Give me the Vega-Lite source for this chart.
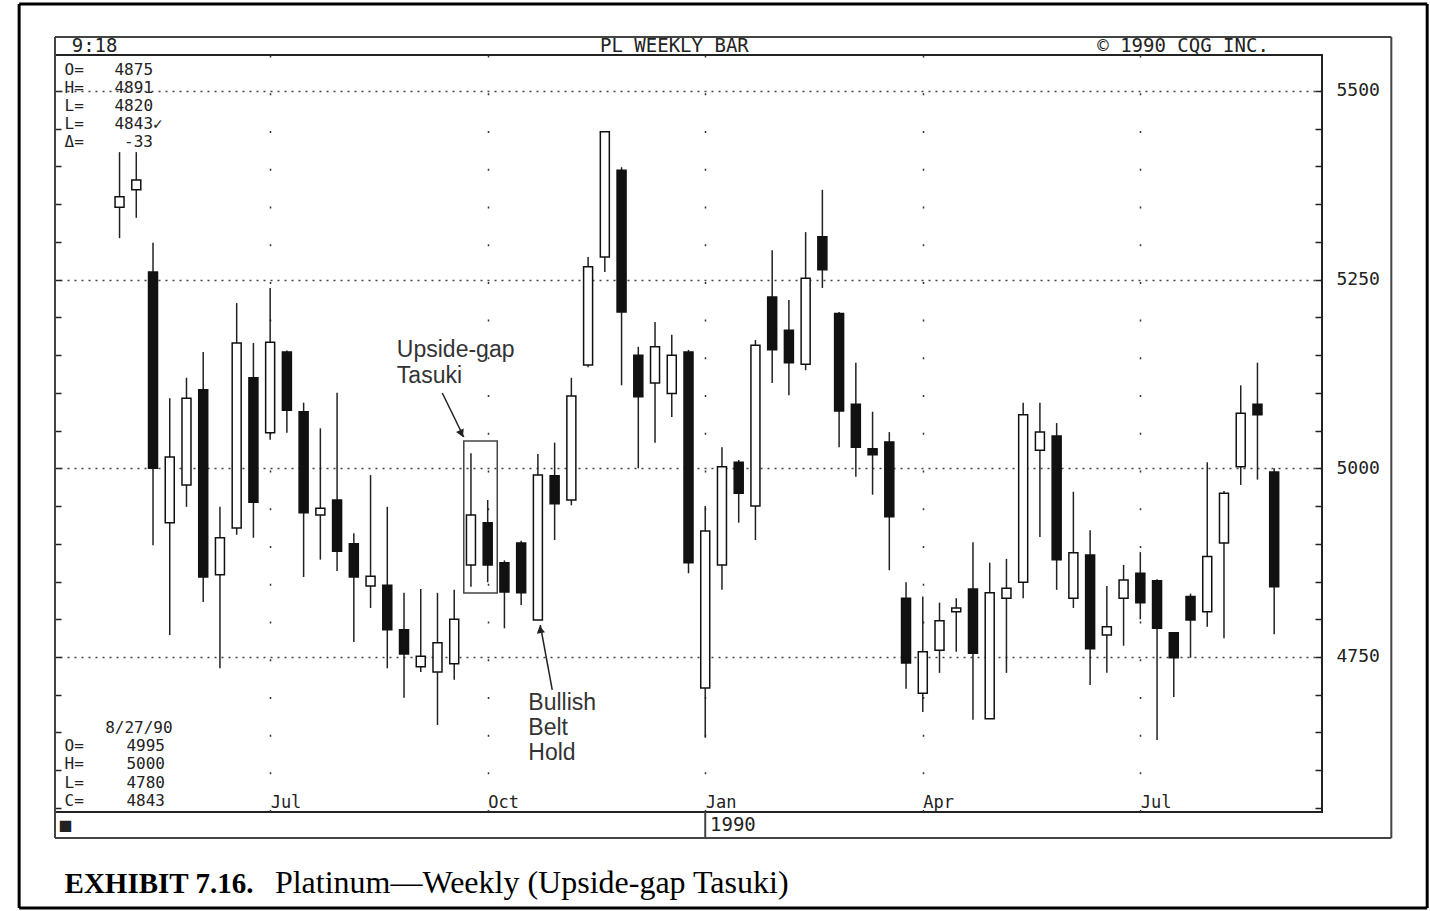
{
  "$schema": "https://vega.github.io/schema/vega-lite/v6.json",
  "width": 1267,
  "height": 757,
  "autosize": {"type": "none"},
  "padding": {"left": 55, "top": 55, "right": 108, "bottom": 99},
  "background": "white",
  "config": {"view": {"stroke": "#222", "strokeWidth": 2}},
  "datasets": {
    "candles": [
      {"d": "1989-05-01", "o": 5346, "h": 5419, "l": 5305, "c": 5360},
      {"d": "1989-05-08", "o": 5369, "h": 5419, "l": 5332, "c": 5382},
      {"d": "1989-05-15", "o": 5260, "h": 5299, "l": 4898, "c": 5000},
      {"d": "1989-05-22", "o": 4928, "h": 5093, "l": 4779, "c": 5015},
      {"d": "1989-05-29", "o": 4978, "h": 5120, "l": 4949, "c": 5093},
      {"d": "1989-06-05", "o": 5104, "h": 5154, "l": 4823, "c": 4856},
      {"d": "1989-06-12", "o": 4859, "h": 4949, "l": 4735, "c": 4908},
      {"d": "1989-06-19", "o": 4921, "h": 5219, "l": 4912, "c": 5166},
      {"d": "1989-06-26", "o": 5120, "h": 5166, "l": 4908, "c": 4955},
      {"d": "1989-07-03", "o": 5047, "h": 5239, "l": 5038, "c": 5167},
      {"d": "1989-07-10", "o": 5154, "h": 5156, "l": 5047, "c": 5077},
      {"d": "1989-07-17", "o": 5075, "h": 5087, "l": 4856, "c": 4941},
      {"d": "1989-07-24", "o": 4938, "h": 5053, "l": 4879, "c": 4947},
      {"d": "1989-07-31", "o": 4958, "h": 5100, "l": 4864, "c": 4890},
      {"d": "1989-08-07", "o": 4900, "h": 4914, "l": 4770, "c": 4856},
      {"d": "1989-08-14", "o": 4844, "h": 4991, "l": 4815, "c": 4857},
      {"d": "1989-08-21", "o": 4845, "h": 4949, "l": 4735, "c": 4786},
      {"d": "1989-08-28", "o": 4786, "h": 4835, "l": 4696, "c": 4754},
      {"d": "1989-09-04", "o": 4737, "h": 4840, "l": 4730, "c": 4751},
      {"d": "1989-09-11", "o": 4730, "h": 4835, "l": 4660, "c": 4769},
      {"d": "1989-09-18", "o": 4741, "h": 4839, "l": 4720, "c": 4800},
      {"d": "1989-09-25", "o": 4872, "h": 5020, "l": 4843, "c": 4938},
      {"d": "1989-10-02", "o": 4928, "h": 4958, "l": 4849, "c": 4872},
      {"d": "1989-10-09", "o": 4875, "h": 4878, "l": 4788, "c": 4836},
      {"d": "1989-10-16", "o": 4901, "h": 4904, "l": 4819, "c": 4835},
      {"d": "1989-10-23", "o": 4799, "h": 5019, "l": 4799, "c": 4991},
      {"d": "1989-10-30", "o": 4990, "h": 5034, "l": 4905, "c": 4953},
      {"d": "1989-11-06", "o": 4958, "h": 5120, "l": 4951, "c": 5096},
      {"d": "1989-11-13", "o": 5137, "h": 5280, "l": 5134, "c": 5267},
      {"d": "1989-11-20", "o": 5280, "h": 5447, "l": 5260, "c": 5446},
      {"d": "1989-11-27", "o": 5395, "h": 5399, "l": 5110, "c": 5207},
      {"d": "1989-12-04", "o": 5150, "h": 5161, "l": 5000, "c": 5095},
      {"d": "1989-12-11", "o": 5113, "h": 5194, "l": 5034, "c": 5161},
      {"d": "1989-12-18", "o": 5099, "h": 5177, "l": 5068, "c": 5150},
      {"d": "1989-12-25", "o": 5154, "h": 5157, "l": 4861, "c": 4875},
      {"d": "1990-01-01", "o": 4709, "h": 4950, "l": 4643, "c": 4917},
      {"d": "1990-01-08", "o": 4872, "h": 5028, "l": 4839, "c": 5002},
      {"d": "1990-01-15", "o": 5008, "h": 5011, "l": 4928, "c": 4967},
      {"d": "1990-01-22", "o": 4950, "h": 5170, "l": 4905, "c": 5163},
      {"d": "1990-01-29", "o": 5227, "h": 5289, "l": 5113, "c": 5157},
      {"d": "1990-02-05", "o": 5183, "h": 5223, "l": 5097, "c": 5140},
      {"d": "1990-02-12", "o": 5138, "h": 5313, "l": 5130, "c": 5252},
      {"d": "1990-02-19", "o": 5307, "h": 5369, "l": 5239, "c": 5263},
      {"d": "1990-02-26", "o": 5205, "h": 5207, "l": 5028, "c": 5076},
      {"d": "1990-03-05", "o": 5085, "h": 5140, "l": 4989, "c": 5028},
      {"d": "1990-03-12", "o": 5026, "h": 5075, "l": 4965, "c": 5018},
      {"d": "1990-03-19", "o": 5035, "h": 5048, "l": 4865, "c": 4936},
      {"d": "1990-03-26", "o": 4828, "h": 4849, "l": 4708, "c": 4742},
      {"d": "1990-04-02", "o": 4702, "h": 4830, "l": 4677, "c": 4757},
      {"d": "1990-04-09", "o": 4759, "h": 4822, "l": 4729, "c": 4798},
      {"d": "1990-04-16", "o": 4810, "h": 4828, "l": 4757, "c": 4815},
      {"d": "1990-04-23", "o": 4840, "h": 4902, "l": 4667, "c": 4755},
      {"d": "1990-04-30", "o": 4668, "h": 4875, "l": 4668, "c": 4835},
      {"d": "1990-05-07", "o": 4828, "h": 4880, "l": 4729, "c": 4841},
      {"d": "1990-05-14", "o": 4849, "h": 5087, "l": 4828, "c": 5071},
      {"d": "1990-05-21", "o": 5024, "h": 5087, "l": 4909, "c": 5048},
      {"d": "1990-05-28", "o": 5043, "h": 5060, "l": 4839, "c": 4879},
      {"d": "1990-06-04", "o": 4828, "h": 4969, "l": 4815, "c": 4888},
      {"d": "1990-06-11", "o": 4885, "h": 4918, "l": 4713, "c": 4761},
      {"d": "1990-06-18", "o": 4779, "h": 4844, "l": 4729, "c": 4790},
      {"d": "1990-06-25", "o": 4828, "h": 4872, "l": 4765, "c": 4852},
      {"d": "1990-07-02", "o": 4861, "h": 4889, "l": 4800, "c": 4822},
      {"d": "1990-07-09", "o": 4851, "h": 4853, "l": 4640, "c": 4788},
      {"d": "1990-07-16", "o": 4782, "h": 4783, "l": 4697, "c": 4749},
      {"d": "1990-07-23", "o": 4830, "h": 4834, "l": 4749, "c": 4799},
      {"d": "1990-07-30", "o": 4810, "h": 5008, "l": 4790, "c": 4883},
      {"d": "1990-08-06", "o": 4901, "h": 4970, "l": 4775, "c": 4967},
      {"d": "1990-08-13", "o": 5002, "h": 5110, "l": 4978, "c": 5073},
      {"d": "1990-08-20", "o": 5085, "h": 5140, "l": 4985, "c": 5071},
      {"d": "1990-08-27", "o": 4995, "h": 5000, "l": 4780, "c": 4843}
    ],
    "notes": [
      {"g": "head", "t": "9:18", "d": "1989-04-11", "p": 5559.6},
      {"g": "head", "t": "PL WEEKLY BAR", "d": "1989-11-18", "p": 5559.6},
      {"g": "head", "t": "© 1990 CQG INC.", "d": "1990-06-14", "p": 5559.6},
      {"g": "head", "t": "■", "d": "1989-04-06", "p": 4527.4},
      {"g": "head", "t": "1990", "d": "1990-01-03", "p": 4527.4},
      {"g": "monoL", "t": "O=", "d": "1989-04-08", "p": 5527.8},
      {"g": "monoL", "t": "H=", "d": "1989-04-08", "p": 5503.9},
      {"g": "monoL", "t": "L=", "d": "1989-04-08", "p": 5480.1},
      {"g": "monoL", "t": "L=", "d": "1989-04-08", "p": 5456.3},
      {"g": "monoL", "t": "Δ=", "d": "1989-04-08", "p": 5432.4},
      {"g": "monoL", "t": "✓", "d": "1989-05-15", "p": 5456.3},
      {"g": "monoL", "t": "8/27/90", "d": "1989-04-25", "p": 4655.9},
      {"g": "monoL", "t": "O=", "d": "1989-04-08", "p": 4632.1},
      {"g": "monoL", "t": "H=", "d": "1989-04-08", "p": 4608.2},
      {"g": "monoL", "t": "L=", "d": "1989-04-08", "p": 4583.0},
      {"g": "monoL", "t": "C=", "d": "1989-04-08", "p": 4559.2},
      {"g": "monoR", "t": "4875", "d": "1989-05-15", "p": 5527.8},
      {"g": "monoR", "t": "4891", "d": "1989-05-15", "p": 5503.9},
      {"g": "monoR", "t": "4820", "d": "1989-05-15", "p": 5480.1},
      {"g": "monoR", "t": "4843", "d": "1989-05-15", "p": 5456.3},
      {"g": "monoR", "t": "-33", "d": "1989-05-15", "p": 5432.4},
      {"g": "monoR", "t": "4995", "d": "1989-05-20", "p": 4632.1},
      {"g": "monoR", "t": "5000", "d": "1989-05-20", "p": 4608.2},
      {"g": "monoR", "t": "4780", "d": "1989-05-20", "p": 4583.0},
      {"g": "monoR", "t": "4843", "d": "1989-05-20", "p": 4559.2},
      {"g": "anno", "t": "Upside-gap", "d": "1989-08-25", "p": 5156.8},
      {"g": "anno", "t": "Tasuki", "d": "1989-08-25", "p": 5122.4},
      {"g": "anno", "t": "Bullish", "d": "1989-10-19", "p": 4689.1},
      {"g": "anno", "t": "Belt", "d": "1989-10-19", "p": 4655.9},
      {"g": "anno", "t": "Hold", "d": "1989-10-19", "p": 4622.8},
      {"g": "capb", "t": "EXHIBIT 7.16.", "d": "1989-04-08", "p": 4437.3},
      {"g": "cap", "t": "Platinum—Weekly (Upside-gap Tasuki)", "d": "1989-07-05", "p": 4437.3}
    ],
    "frames": [
      {"kind": "page", "d1": "1989-03-20", "d2": "1990-10-30", "p1": 5615.3, "p2": 5615.3},
      {"kind": "page", "d1": "1989-03-20", "d2": "1990-10-30", "p1": 4417.4, "p2": 4417.4},
      {"kind": "page", "d1": "1989-03-20", "d2": "1989-03-20", "p1": 4417.4, "p2": 5615.3},
      {"kind": "page", "d1": "1990-10-30", "d2": "1990-10-30", "p1": 4417.4, "p2": 5615.3},
      {"kind": "box", "d1": "1989-04-04", "d2": "1990-10-15", "p1": 5571.6, "p2": 5571.6},
      {"kind": "box", "d1": "1989-04-04", "d2": "1990-10-15", "p1": 4510.2, "p2": 4510.2},
      {"kind": "box", "d1": "1989-04-04", "d2": "1989-04-04", "p1": 4510.2, "p2": 5571.6},
      {"kind": "box", "d1": "1990-10-15", "d2": "1990-10-15", "p1": 4510.2, "p2": 5571.6},
      {"kind": "box", "d1": "1990-01-01", "d2": "1990-01-01", "p1": 4510.2, "p2": 4544.6}
    ],
    "tasuki": [
      {"d1": "1989-09-22", "d2": "1989-10-06", "p1": 5036.2, "p2": 4834.8}
    ],
    "arrows": [
      {"id": "a1", "d1": "1989-09-13", "p1": 5099.8, "d2": "1989-09-22", "p2": 5041.5, "hd": "1989-09-21", "hp": 5046.0},
      {"id": "a2", "d1": "1989-10-29", "p1": 4706.3, "d2": "1989-10-24", "p2": 4792.4, "hd": "1989-10-24", "hp": 4786.5}
    ]
  },
  "resolve": {"axis": {"y": "independent", "x": "shared"}},
  "layer": [
    {
      "data": {"name": "candles"},
      "mark": {"type": "rule", "color": "#222", "strokeWidth": 1.5},
      "encoding": {
        "x": {
          "field": "d", "type": "temporal",
          "scale": {"type": "utc", "padding": 0, "nice": false, "domain": [{"year": 1989, "month": 4, "date": 4, "utc": true}, {"year": 1990, "month": 9, "date": 16, "utc": true}]},
          "axis": {
            "title": null,
            "values": [615427200000, 623289600000, 631152000000, 639014400000, 646876800000],
            "labelExpr": "utcFormat(datum.value, '%b')",
            "labelAlign": "left", "labelBaseline": "alphabetic", "labelPadding": -5,
            "labelFont": "DejaVu Sans Mono", "labelFontSize": 17, "labelColor": "#222",
            "labelOverlap": false, "labelFlush": false, "labelBound": false,
            "ticks": false, "domain": false,
            "grid": true, "gridColor": "#333", "gridDash": [2, 35.73], "gridWidth": 1.5
          }
        },
        "y": {
          "field": "l", "type": "quantitative",
          "scale": {"domain": [4544.6, 5547.7], "nice": false, "zero": false, "padding": 0},
          "axis": {
            "orient": "right", "title": null,
            "values": [4550, 4600, 4650, 4700, 4750, 4800, 4850, 4900, 4950, 5000, 5050, 5100, 5150, 5200, 5250, 5300, 5350, 5400, 5450, 5500],
            "format": "d",
            "labelExpr": "datum.value % 250 === 0 ? datum.label : ''",
            "labelFont": "DejaVu Sans Mono", "labelFontSize": 18, "labelColor": "#222",
            "labelPadding": 21, "labelOverlap": false, "labelAlign": "left", "labelBaseline": "middle",
            "ticks": true, "tickSize": -7, "tickColor": "#222", "tickWidth": 1.5,
            "domain": false,
            "grid": true, "gridColor": "#444", "gridDash": [2, 5], "gridWidth": 1.5,
            "gridOpacity": {"condition": {"test": "datum.value % 250 === 0", "value": 1}, "value": 0}
          }
        },
        "y2": {"field": "h"}
      }
    },
    {
      "data": {"name": "frames"},
      "transform": [{"filter": "datum.kind === 'page'"}],
      "mark": {"type": "rule", "color": "#000", "strokeWidth": 3},
      "encoding": {
        "x": {"field": "d1", "type": "temporal"},
        "x2": {"field": "d2"},
        "y": {"field": "p1", "type": "quantitative", "axis": null},
        "y2": {"field": "p2"}
      }
    },
    {
      "data": {"name": "frames"},
      "transform": [{"filter": "datum.kind === 'box'"}],
      "mark": {"type": "rule", "color": "#444", "strokeWidth": 2},
      "encoding": {
        "x": {"field": "d1", "type": "temporal"},
        "x2": {"field": "d2"},
        "y": {"field": "p1", "type": "quantitative", "axis": null},
        "y2": {"field": "p2"}
      }
    },
    {
      "data": {"name": "candles"},
      "mark": {"type": "bar", "size": 9, "stroke": "#111", "strokeWidth": 1.5},
      "encoding": {
        "x": {"field": "d", "type": "temporal"},
        "y": {
          "field": "o", "type": "quantitative",
          "axis": {
            "orient": "left", "title": null,
            "values": [4550, 4600, 4650, 4700, 4750, 4800, 4850, 4900, 4950, 5000, 5050, 5100, 5150, 5200, 5250, 5300, 5350, 5400, 5450, 5500],
            "labels": false, "ticks": true, "tickSize": -6, "tickColor": "#222", "tickWidth": 1.5,
            "domain": false, "grid": false
          }
        },
        "y2": {"field": "c"},
        "fill": {"condition": {"test": "datum.c < datum.o", "value": "#111"}, "value": "#ffffff"}
      }
    },
    {
      "data": {"name": "tasuki"},
      "mark": {"type": "rect", "fill": null, "fillOpacity": 0, "stroke": "#444", "strokeWidth": 1.5},
      "encoding": {
        "x": {"field": "d1", "type": "temporal"},
        "x2": {"field": "d2"},
        "y": {"field": "p1", "type": "quantitative", "axis": null},
        "y2": {"field": "p2"}
      }
    },
    {
      "data": {"name": "arrows"},
      "mark": {"type": "rule", "color": "#222", "strokeWidth": 1.5},
      "encoding": {
        "x": {"field": "d1", "type": "temporal"},
        "x2": {"field": "d2"},
        "y": {"field": "p1", "type": "quantitative", "axis": null},
        "y2": {"field": "p2"}
      }
    },
    {
      "data": {"name": "arrows"},
      "transform": [{"filter": "datum.id === 'a1'"}],
      "mark": {"type": "point", "shape": "triangle-up", "filled": true, "color": "#222", "size": 70, "angle": 156, "opacity": 1},
      "encoding": {
        "x": {"field": "hd", "type": "temporal"},
        "y": {"field": "hp", "type": "quantitative", "axis": null}
      }
    },
    {
      "data": {"name": "arrows"},
      "transform": [{"filter": "datum.id === 'a2'"}],
      "mark": {"type": "point", "shape": "triangle-up", "filled": true, "color": "#222", "size": 70, "angle": 350, "opacity": 1},
      "encoding": {
        "x": {"field": "hd", "type": "temporal"},
        "y": {"field": "hp", "type": "quantitative", "axis": null}
      }
    },
    {
      "data": {"name": "notes"},
      "transform": [{"filter": "datum.g === 'head'"}],
      "mark": {"type": "text", "font": "DejaVu Sans Mono", "fontSize": 19, "color": "#222", "align": "left", "baseline": "middle"},
      "encoding": {
        "x": {"field": "d", "type": "temporal"},
        "y": {"field": "p", "type": "quantitative", "axis": null},
        "text": {"field": "t"}
      }
    },
    {
      "data": {"name": "notes"},
      "transform": [{"filter": "datum.g === 'monoL'"}],
      "mark": {"type": "text", "font": "DejaVu Sans Mono", "fontSize": 16, "color": "#222", "align": "left", "baseline": "middle"},
      "encoding": {
        "x": {"field": "d", "type": "temporal"},
        "y": {"field": "p", "type": "quantitative", "axis": null},
        "text": {"field": "t"}
      }
    },
    {
      "data": {"name": "notes"},
      "transform": [{"filter": "datum.g === 'monoR'"}],
      "mark": {"type": "text", "font": "DejaVu Sans Mono", "fontSize": 16, "color": "#222", "align": "right", "baseline": "middle"},
      "encoding": {
        "x": {"field": "d", "type": "temporal"},
        "y": {"field": "p", "type": "quantitative", "axis": null},
        "text": {"field": "t"}
      }
    },
    {
      "data": {"name": "notes"},
      "transform": [{"filter": "datum.g === 'anno'"}],
      "mark": {"type": "text", "font": "Liberation Sans", "fontSize": 23, "color": "#333", "align": "left", "baseline": "middle"},
      "encoding": {
        "x": {"field": "d", "type": "temporal"},
        "y": {"field": "p", "type": "quantitative", "axis": null},
        "text": {"field": "t"}
      }
    },
    {
      "data": {"name": "notes"},
      "transform": [{"filter": "datum.g === 'capb'"}],
      "mark": {"type": "text", "font": "Liberation Serif", "fontSize": 29, "fontWeight": "bold", "color": "#000", "align": "left", "baseline": "alphabetic"},
      "encoding": {
        "x": {"field": "d", "type": "temporal"},
        "y": {"field": "p", "type": "quantitative", "axis": null},
        "text": {"field": "t"}
      }
    },
    {
      "data": {"name": "notes"},
      "transform": [{"filter": "datum.g === 'cap'"}],
      "mark": {"type": "text", "font": "Liberation Serif", "fontSize": 32, "color": "#000", "align": "left", "baseline": "alphabetic"},
      "encoding": {
        "x": {"field": "d", "type": "temporal"},
        "y": {"field": "p", "type": "quantitative", "axis": null},
        "text": {"field": "t"}
      }
    }
  ]
}
